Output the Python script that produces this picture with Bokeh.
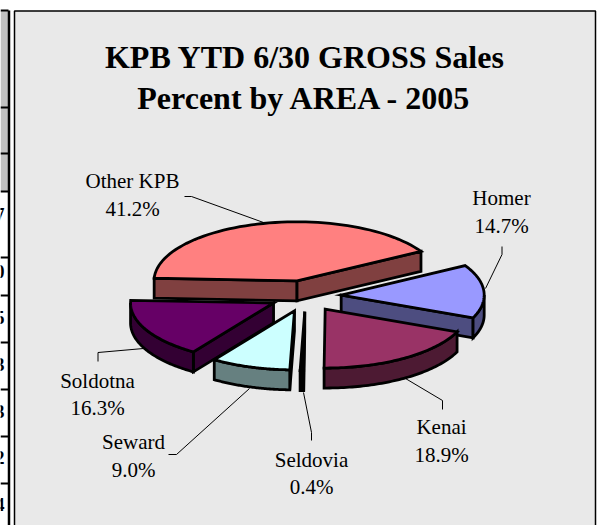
import math
from bokeh.plotting import figure
from bokeh.models import Range1d
from bokeh.core.properties import value
from bokeh.embed import file_html
from bokeh.resources import INLINE

# ---- data ----
areas = ["Other KPB", "Homer", "Kenai", "Seldovia", "Seward", "Soldotna"]
percents = [41.2, 14.7, 18.9, 0.4, 9.0, 16.3]
top_colors = ["#FF8080", "#9999FF", "#993366", "#000000", "#CCFFFF", "#660066"]
side_colors = ["#804040", "#4D4D80", "#4D1A33", "#000000", "#668080", "#330033"]
title_lines = ["KPB YTD 6/30 GROSS Sales", "Percent by AREA - 2005"]
clipped_digits = ["7", "0", "5", "3", "3", "2", "4"]

# ---- layout ----
W, H = 603, 525
CX, CY, RX, RY, DEPTH = 305, 295.5, 143, 59, 20
EXPLODE_X, EXPLODE_Y = 0.25, 0.265
START_DEG = 177.5
BG = "#E9E9E9"
LW = 2.8
label_pos = {
    "Other KPB": (132, 180, 208), "Homer": (501, 197, 225), "Kenai": (441, 426, 454),
    "Seldovia": (311, 459, 486), "Seward": (133, 441, 469), "Soldotna": (97, 380, 407),
}
leaders = [
    ([184, 191, 263], [196, 196, 222]),
    ([501.5, 501.5, 485], [246, 254, 288]),
    ([97.5, 97.5, 143], [361, 352, 348]),
    ([168, 176, 249], [454, 454, 388]),
    ([311, 311, 303], [440, 432, 392]),
    ([442, 442, 405], [409, 400, 378]),
]
row_lines = [10, 107, 153, 191, 257, 295, 342, 389, 436, 483]
digit_y = [214, 271, 317, 364, 411, 457, 504]

p = figure(width=W, height=H, x_range=Range1d(0, W), y_range=Range1d(H, 0),
           output_backend="svg", toolbar_location=None, min_border=0,
           outline_line_color=None, background_fill_color="white")
p.margin = (0, 0, 0, 0)
p.xaxis.visible = False
p.yaxis.visible = False
p.grid.visible = False

# left table fragment
p.quad(left=0, right=8, top=10, bottom=191, fill_color="#C0C0C0", line_color=None)
for y in row_lines:
    p.line([0, 8], [y, y], line_color="black", line_width=2)
p.line([8.5, 8.5], [10, H], line_color="black", line_width=2.5)
for d, y in zip(clipped_digits, digit_y):
    p.text([4], [y], text=[d], text_font=value("Liberation Serif"), text_font_size="18px",
           text_font_style="bold", text_align="right", text_baseline="middle", text_color="black")

# chart panel
p.quad(left=14, right=595, top=10.5, bottom=H + 2, fill_color=BG, line_color="black", line_width=1.5)

# title
for t, y in zip(title_lines, [56.5, 97.5]):
    p.text([304.5], [y], text=[t], text_font=value("Liberation Serif"), text_font_size="32px",
           text_font_style="bold", text_align="center", text_baseline="middle", text_color="black")

# pie slices
total = sum(percents)
slices = []
a = START_DEG
for name, v, tc, sc in zip(areas, percents, top_colors, side_colors):
    sweep = v / total * 360
    a0, a1 = a, a - sweep
    mid = math.radians((a0 + a1) / 2)
    ax = CX + EXPLODE_X * RX * math.cos(mid)
    ay = CY - EXPLODE_Y * RY * math.sin(mid)
    slices.append((name, a0, a1, ax, ay, tc, sc))
    a = a1

def rim(ax, ay, deg):
    r = math.radians(deg)
    return ax + RX * math.cos(r), ay - RY * math.sin(r)

def arc(ax, ay, d0, d1, n=60):
    pts = [rim(ax, ay, d0 + (d1 - d0) * i / n) for i in range(n + 1)]
    return [q[0] for q in pts], [q[1] for q in pts]

# paint back to front (by apex height)
for name, a0, a1, ax, ay, tc, sc in sorted(slices, key=lambda s: s[4]):
    kw = dict(fill_color=sc, line_color="black", line_width=LW, line_join="miter")
    for deg, sign in ((a0, 1), (a1, -1)):
        ex, ey = rim(ax, ay, deg)
        dx = ex - ax
        if -sign * dx > 0:
            p.patch([ax, ex, ex, ax], [ay, ey, ey + DEPTH, ay + DEPTH], **kw)
    lo, hi = a1, a0
    k0, k1 = math.floor(lo / 360), math.ceil(hi / 360)
    for k in range(k0 - 1, k1 + 1):
        s0 = max(lo, 180 + 360 * k)
        s1 = min(hi, 360 + 360 * k)
        if s1 > s0:
            xs, ys = arc(ax, ay, s0, s1)
            p.patch(xs + xs[::-1], ys + [y + DEPTH for y in ys[::-1]], **kw)
    xs, ys = arc(ax, ay, a0, a1)
    p.patch([ax] + xs, [ay] + ys, fill_color=tc, line_color="black", line_width=LW, line_join="miter")

# leader lines
for lx, ly in leaders:
    p.line(lx, ly, line_color="black", line_width=1)

# labels
for name, v in zip(areas, percents):
    x, y1, y2 = label_pos[name]
    p.text([x], [y1], text=[name], text_font=value("Liberation Serif"), text_font_size="21px",
           text_align="center", text_baseline="middle", text_color="black")
    p.text([x], [y2], text=[f"{v:.1f}%"], text_font=value("Liberation Serif"), text_font_size="21px",
           text_align="center", text_baseline="middle", text_color="black")

open("out.html", "w").write(file_html(p, INLINE))
